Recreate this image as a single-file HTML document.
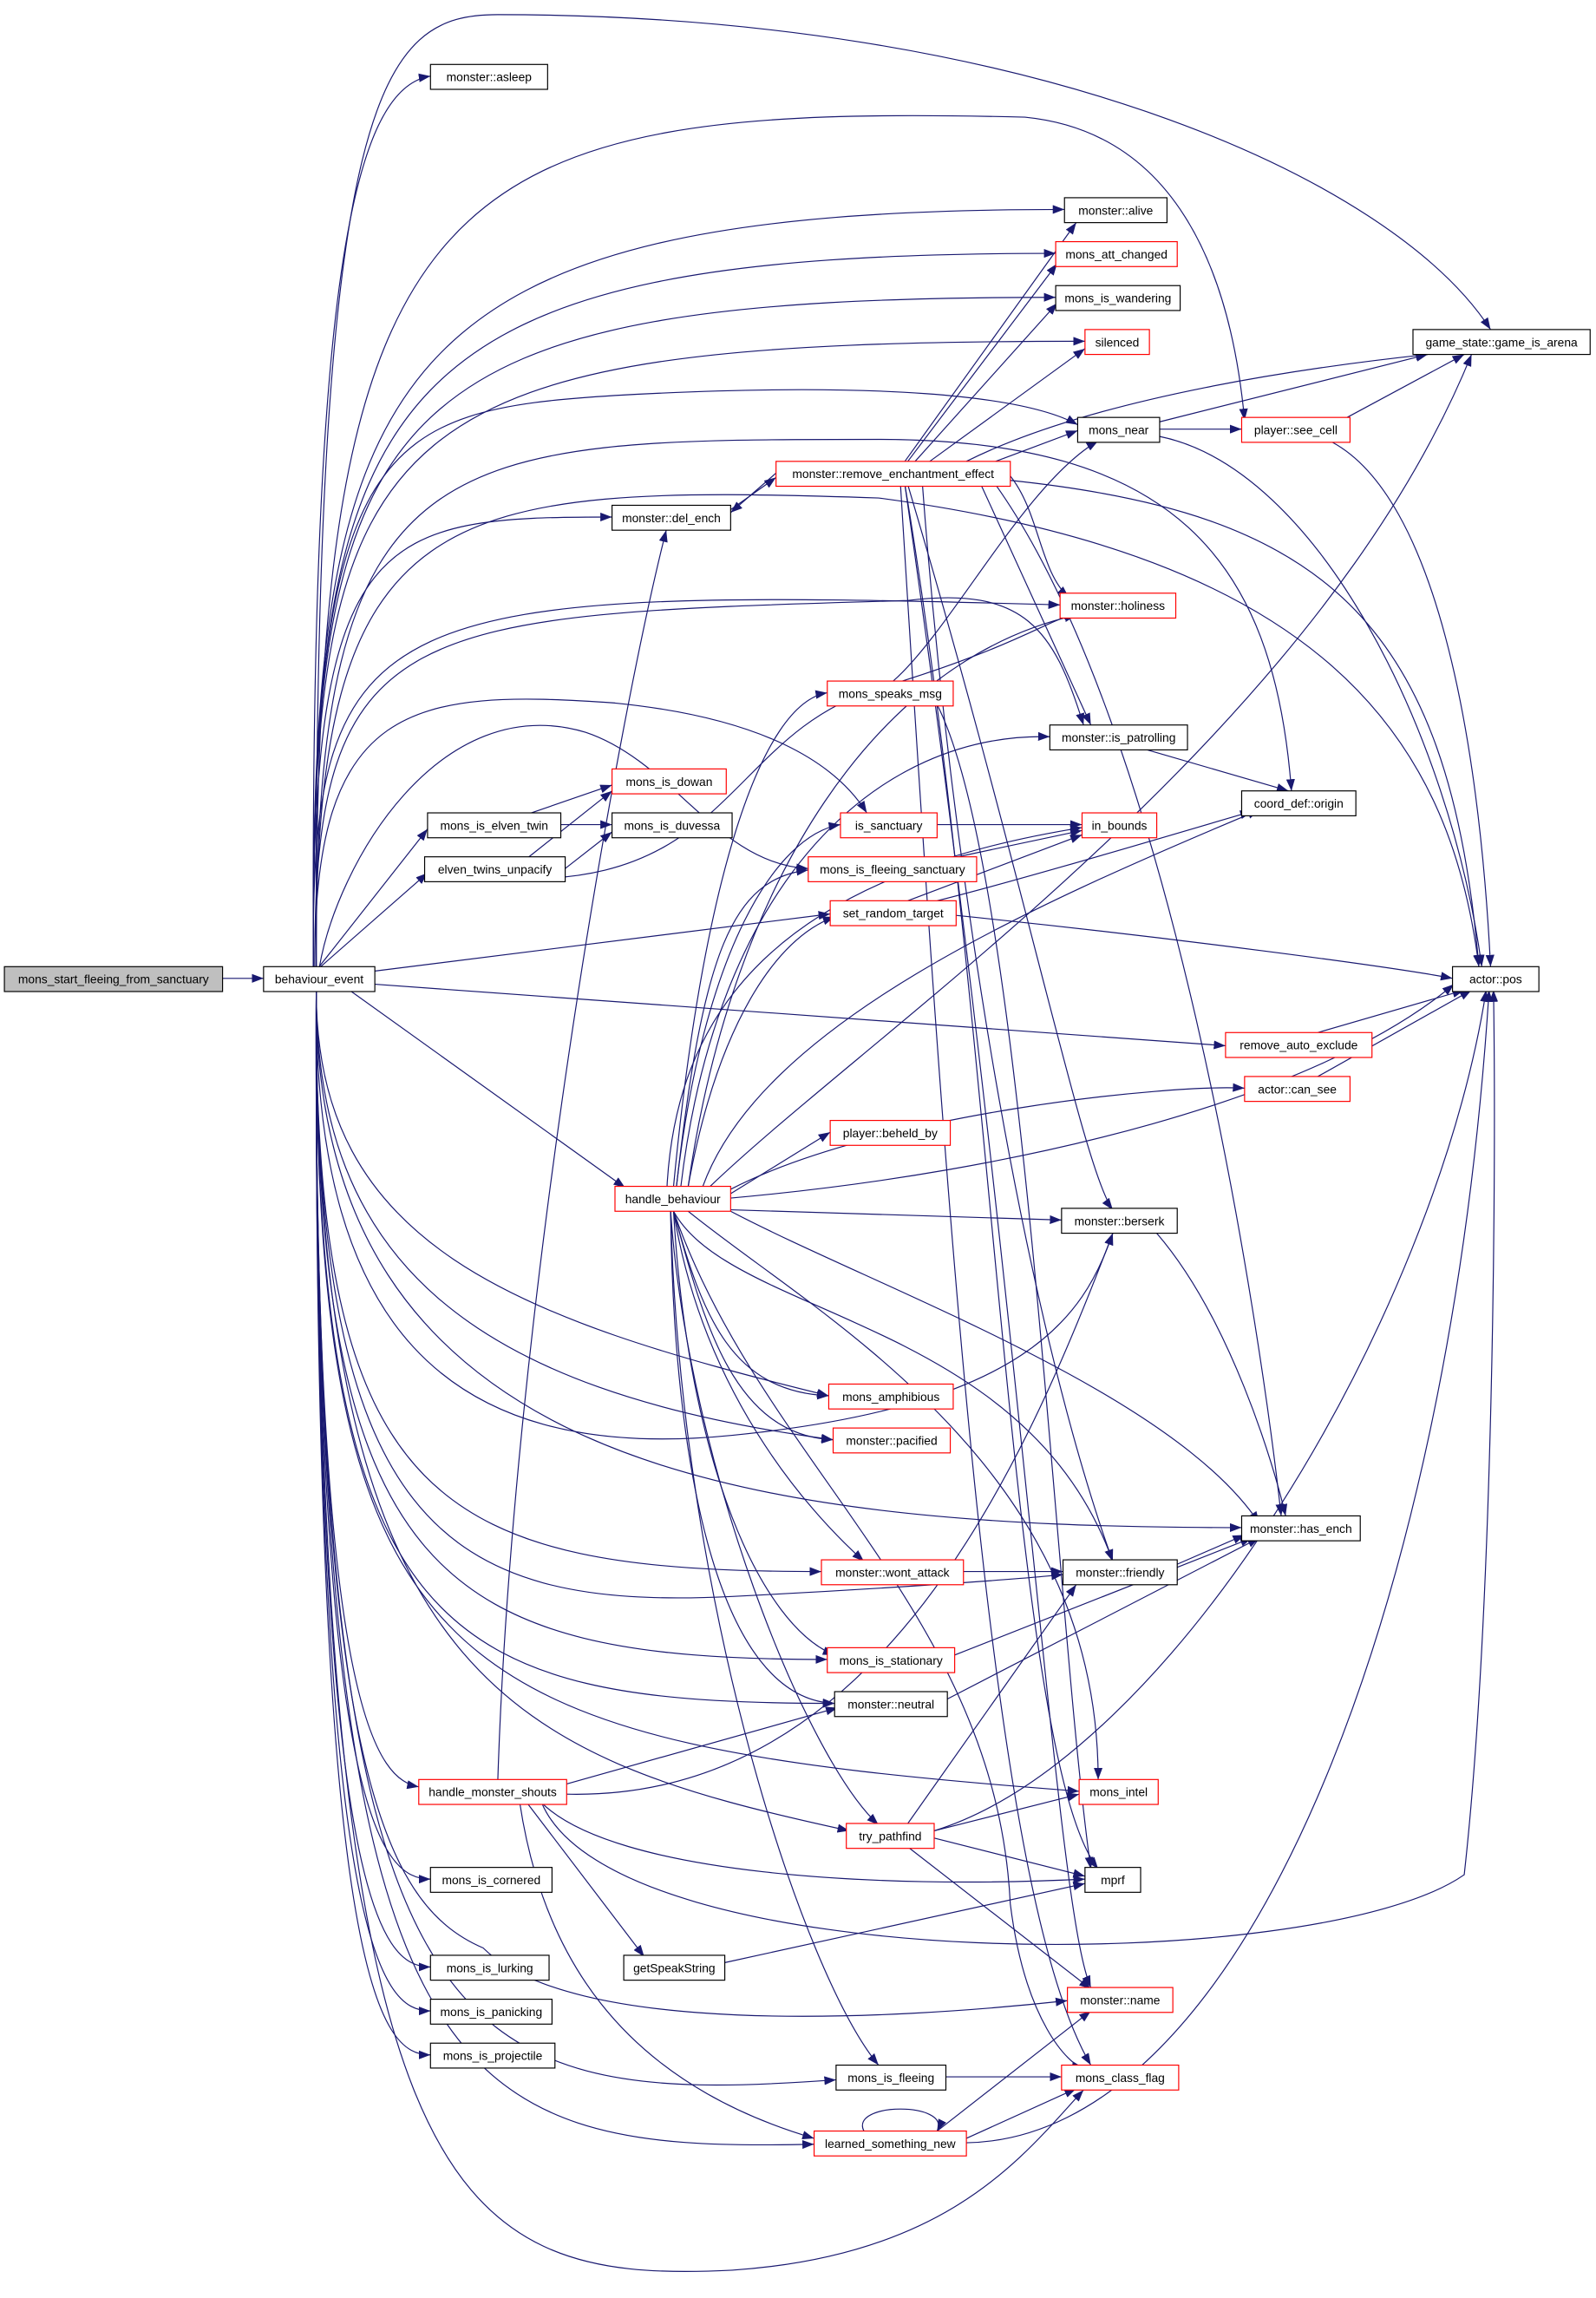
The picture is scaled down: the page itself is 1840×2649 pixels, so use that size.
<!DOCTYPE html>
<html><head><meta charset="utf-8"><style>
html,body{margin:0;padding:0;background:#fff}
svg{display:block}
text{font-family:"Liberation Sans",sans-serif;font-size:8.2px;fill:#000}
.e{fill:none;stroke:#191970;stroke-width:0.7}
.n{fill:#fff;stroke:#000;stroke-width:0.7}
.r{fill:#fff;stroke:#f00;stroke-width:0.7}
</style></head><body>
<svg width="1840" height="2649" viewBox="0 0 1090 1569" preserveAspectRatio="none" xmlns="http://www.w3.org/2000/svg">
<defs><marker id="a" markerWidth="8" markerHeight="6" refX="8" refY="3" orient="auto" markerUnits="userSpaceOnUse"><path d="M0,0 L8,3 L0,6 z" fill="#191970"/></marker></defs>
<g class="e" marker-end="url(#a)">
<path d="M152 668 L180 668"/>
<path d="M214 660 C212 200,240 60,294 52"/>
<path d="M216 660 C214 60,260 10,340 10 C700 10,950 120,1018 225"/>
<path d="M214 660 C212 250,260 143,727 143"/>
<path d="M214 660 C212 260,260 173,721 173"/>
<path d="M214 660 C212 270,260 203,721 203"/>
<path d="M214 660 C212 280,260 233,741 233"/>
<path d="M214 660 C212 300,260 280,420 270 C600 260,700 270,736 290"/>
<path d="M216 660 C214 120,300 70,700 80 C800 90,840 180,850 287"/>
<path d="M214 660 C212 360,260 353,418 353"/>
<path d="M214 660 C212 410,260 400,724 413"/>
<path d="M215 660 C214 420,280 420,620 410 C700 400,720 430,740 495"/>
<path d="M215 660 C214 480,280 470,420 480 C520 490,570 520,592 555"/>
<path d="M216 660 C214 300,300 300,600 300 C800 300,870 380,882 540"/>
<path d="M216 660 C214 340,300 330,600 340 C900 380,990 500,1010 660"/>
<path d="M218 660 L292 566"/>
<path d="M219 660 L292 596"/>
<path d="M218 661 C230 590,300 470,400 500 C460 520,490 590,552 593"/>
<path d="M256 663 L567 624"/>
<path d="M256 672 L837 714"/>
<path d="M240 677 L427 811"/>
<path d="M216 677 C214 900,300 1000,500 980 C700 960,740 900,760 842"/>
<path d="M216 677 C216 850,350 900,566 953"/>
<path d="M216 677 C216 860,320 950,569 983"/>
<path d="M216 677 C214 1000,500 1043,848 1043"/>
<path d="M216 677 C214 1030,300 1073,561 1073"/>
<path d="M216 677 C214 1040,300 1100,500 1090 C600 1085,700 1078,726 1075"/>
<path d="M216 677 C214 1080,300 1133,565 1133"/>
<path d="M216 677 C214 1120,300 1163,570 1163"/>
<path d="M216 677 C214 1180,260 1215,286 1220"/>
<path d="M216 677 C214 1150,300 1190,737 1223"/>
<path d="M216 677 C214 1150,350 1200,580 1250"/>
<path d="M216 677 C214 1240,260 1283,294 1283"/>
<path d="M216 677 C214 1300,260 1343,294 1343"/>
<path d="M216 677 C214 1330,260 1373,294 1373"/>
<path d="M216 677 C214 1360,260 1403,294 1403"/>
<path d="M216 677 C214 1200,260 1300,330 1330 C390 1390,600 1380,729 1366"/>
<path d="M216 677 C214 1400,300 1440,571 1420"/>
<path d="M216 677 C214 1430,300 1470,556 1464"/>
<path d="M216 677 C214 1500,300 1560,500 1550 C650 1540,700 1470,740 1427"/>
<path d="M618 315 L735 152"/>
<path d="M620 315 L722 180"/>
<path d="M625 315 L722 207"/>
<path d="M635 315 L741 238"/>
<path d="M660 315 C750 270,900 250,975 242"/>
<path d="M680 315 L736 294"/>
<path d="M530 323 L499 350"/>
<path d="M499 348 L530 326"/>
<path d="M690 325 C710 350,710 390,730 408"/>
<path d="M670 331 L745 495"/>
<path d="M690 328 C900 350,990 420,1010 660"/>
<path d="M680 331 C800 500,860 900,875 1035"/>
<path d="M630 331 C650 600,700 900,760 1066"/>
<path d="M620 331 C700 600,740 800,760 826"/>
<path d="M618 331 C680 700,690 1200,750 1276"/>
<path d="M618 331 C700 900,720 1300,745 1357"/>
<path d="M615 331 C650 900,680 1300,745 1410"/>
<path d="M792 288 L975 242"/>
<path d="M792 293 L848 293"/>
<path d="M920 285 L1000 242"/>
<path d="M792 298 C900 320,990 500,1012 660"/>
<path d="M910 302 C980 340,1010 500,1018 660"/>
<path d="M780 511 L880 540"/>
<path d="M360 556 L418 536"/>
<path d="M383 563 L418 563"/>
<path d="M360 586 L418 540"/>
<path d="M386 593 L418 568"/>
<path d="M360 600 C500 600,500 500,600 470 C700 440,720 420,735 420"/>
<path d="M640 563 L739 563"/>
<path d="M640 588 L739 567"/>
<path d="M620 615 L739 570"/>
<path d="M640 615 C700 600,800 570,855 554"/>
<path d="M653 625 C800 640,950 660,992 668"/>
<path d="M900 705 L1000 676"/>
<path d="M900 735 L1005 676"/>
<path d="M610 465 C650 430,700 330,750 301"/>
<path d="M640 481 C700 600,720 1100,745 1276"/>
<path d="M790 842 C840 900,870 1000,878 1035"/>
<path d="M658 1073 L726 1073"/>
<path d="M804 1068 L850 1048"/>
<path d="M652 1130 L855 1050"/>
<path d="M647 1160 L860 1050"/>
<path d="M460 810 C480 600,520 480,565 473"/>
<path d="M465 810 C490 600,600 500,717 503"/>
<path d="M470 810 C500 600,600 450,735 420"/>
<path d="M462 810 C480 650,530 570,574 563"/>
<path d="M462 810 C480 650,500 600,552 594"/>
<path d="M470 810 C490 700,530 640,570 626"/>
<path d="M480 810 C520 700,700 620,860 553"/>
<path d="M485 810 C600 700,900 500,1005 242"/>
<path d="M499 812 C600 760,800 740,850 743"/>
<path d="M499 815 L567 773"/>
<path d="M499 818 C700 800,900 750,993 672"/>
<path d="M499 826 L725 833"/>
<path d="M499 827 C600 880,800 950,860 1040"/>
<path d="M460 827 C500 900,700 900,760 1066"/>
<path d="M460 827 C480 900,500 950,566 953"/>
<path d="M460 827 C480 900,500 980,569 983"/>
<path d="M460 827 C480 950,550 1030,590 1066"/>
<path d="M460 827 C470 1000,520 1110,570 1130"/>
<path d="M458 827 C460 1000,490 1160,570 1163"/>
<path d="M458 827 C470 1000,550 1200,600 1246"/>
<path d="M470 827 C560 900,750 1000,750 1215"/>
<path d="M458 827 C465 1100,550 1350,600 1410"/>
<path d="M460 827 C520 1000,680 1100,690 1300 C700 1380,730 1410,740 1412"/>
<path d="M455 827 C456 700,520 600,739 565"/>
<path d="M340 1215 C350 900,420 500,455 362"/>
<path d="M387 1218 L572 1166"/>
<path d="M387 1225 C600 1230,700 1000,760 842"/>
<path d="M370 1231 C420 1280,600 1290,741 1283"/>
<path d="M360 1231 L440 1336"/>
<path d="M370 1231 C420 1350,900 1350,1000 1280 C1020 1100,1022 800,1020 676"/>
<path d="M355 1231 C370 1330,420 1420,556 1460"/>
<path d="M620 1245 L735 1082"/>
<path d="M638 1250 L737 1225"/>
<path d="M638 1255 L741 1281"/>
<path d="M638 1250 C800 1200,980 900,1015 676"/>
<path d="M620 1261 L745 1358"/>
<path d="M495 1340 L741 1286"/>
<path d="M646 1418 L725 1418"/>
<path d="M590 1455 C580 1435,650 1435,640 1455"/>
<path d="M640 1455 L745 1373"/>
<path d="M660 1460 L735 1426"/>
<path d="M660 1463 C850 1460,990 1100,1017 676"/>
</g>
<g>
<rect x="3" y="660" width="149" height="17" fill="#bfbfbf" stroke="#000" stroke-width="0.7"/><text x="77.5" y="671.5" text-anchor="middle">mons_start_fleeing_from_sanctuary</text>
</g>
<g text-anchor="middle">
<rect class="n" x="180" y="660" width="76" height="17"/><text x="218" y="671.5">behaviour_event</text>
<rect class="n" x="294" y="44" width="80" height="17"/><text x="334" y="55.5">monster::asleep</text>
<rect class="n" x="727" y="135" width="70" height="17"/><text x="762" y="146.5">monster::alive</text>
<rect class="r" x="721" y="165" width="83" height="17"/><text x="762.5" y="176.5">mons_att_changed</text>
<rect class="n" x="721" y="195" width="85" height="17"/><text x="763.5" y="206.5">mons_is_wandering</text>
<rect class="r" x="741" y="225" width="44" height="17"/><text x="763" y="236.5">silenced</text>
<rect class="n" x="965" y="225" width="121" height="17"/><text x="1025.5" y="236.5">game_state::game_is_arena</text>
<rect class="n" x="736" y="285" width="56" height="17"/><text x="764" y="296.5">mons_near</text>
<rect class="r" x="848" y="285" width="74" height="17"/><text x="885" y="296.5">player::see_cell</text>
<rect class="r" x="530" y="315" width="160" height="17"/><text x="610" y="326.5">monster::remove_enchantment_effect</text>
<rect class="n" x="418" y="345" width="81" height="17"/><text x="458.5" y="356.5">monster::del_ench</text>
<rect class="r" x="724" y="405" width="79" height="17"/><text x="763.5" y="416.5">monster::holiness</text>
<rect class="r" x="565" y="465" width="86" height="17"/><text x="608" y="476.5">mons_speaks_msg</text>
<rect class="n" x="717" y="495" width="94" height="17"/><text x="764" y="506.5">monster::is_patrolling</text>
<rect class="r" x="418" y="525" width="78" height="17"/><text x="457" y="536.5">mons_is_dowan</text>
<rect class="n" x="848" y="540" width="78" height="17"/><text x="887" y="551.5">coord_def::origin</text>
<rect class="n" x="292" y="555" width="91" height="17"/><text x="337.5" y="566.5">mons_is_elven_twin</text>
<rect class="n" x="418" y="555" width="82" height="17"/><text x="459" y="566.5">mons_is_duvessa</text>
<rect class="r" x="574" y="555" width="66" height="17"/><text x="607" y="566.5">is_sanctuary</text>
<rect class="r" x="739" y="555" width="51" height="17"/><text x="764.5" y="566.5">in_bounds</text>
<rect class="n" x="290" y="585" width="96" height="17"/><text x="338" y="596.5">elven_twins_unpacify</text>
<rect class="r" x="552" y="585" width="115" height="17"/><text x="609.5" y="596.5">mons_is_fleeing_sanctuary</text>
<rect class="r" x="567" y="615" width="86" height="17"/><text x="610" y="626.5">set_random_target</text>
<rect class="n" x="992" y="660" width="59" height="17"/><text x="1021.5" y="671.5">actor::pos</text>
<rect class="r" x="837" y="705" width="100" height="17"/><text x="887" y="716.5">remove_auto_exclude</text>
<rect class="r" x="850" y="735" width="72" height="17"/><text x="886" y="746.5">actor::can_see</text>
<rect class="r" x="567" y="765" width="82" height="17"/><text x="608" y="776.5">player::beheld_by</text>
<rect class="r" x="420" y="810" width="79" height="17"/><text x="459.5" y="821.5">handle_behaviour</text>
<rect class="n" x="725" y="825" width="79" height="17"/><text x="764.5" y="836.5">monster::berserk</text>
<rect class="r" x="566" y="945" width="85" height="17"/><text x="608.5" y="956.5">mons_amphibious</text>
<rect class="r" x="569" y="975" width="80" height="17"/><text x="609" y="986.5">monster::pacified</text>
<rect class="n" x="848" y="1035" width="81" height="17"/><text x="888.5" y="1046.5">monster::has_ench</text>
<rect class="r" x="561" y="1065" width="97" height="17"/><text x="609.5" y="1076.5">monster::wont_attack</text>
<rect class="n" x="726" y="1065" width="78" height="17"/><text x="765" y="1076.5">monster::friendly</text>
<rect class="r" x="565" y="1125" width="87" height="17"/><text x="608.5" y="1136.5">mons_is_stationary</text>
<rect class="n" x="570" y="1155" width="77" height="17"/><text x="608.5" y="1166.5">monster::neutral</text>
<rect class="r" x="286" y="1215" width="101" height="17"/><text x="336.5" y="1226.5">handle_monster_shouts</text>
<rect class="r" x="737" y="1215" width="54" height="17"/><text x="764" y="1226.5">mons_intel</text>
<rect class="r" x="578" y="1245" width="60" height="17"/><text x="608" y="1256.5">try_pathfind</text>
<rect class="n" x="294" y="1275" width="83" height="17"/><text x="335.5" y="1286.5">mons_is_cornered</text>
<rect class="n" x="741" y="1275" width="38" height="17"/><text x="760" y="1286.5">mprf</text>
<rect class="n" x="426" y="1335" width="69" height="17"/><text x="460.5" y="1346.5">getSpeakString</text>
<rect class="n" x="294" y="1335" width="81" height="17"/><text x="334.5" y="1346.5">mons_is_lurking</text>
<rect class="r" x="729" y="1357" width="72" height="17"/><text x="765" y="1368.5">monster::name</text>
<rect class="n" x="294" y="1365" width="83" height="17"/><text x="335.5" y="1376.5">mons_is_panicking</text>
<rect class="n" x="294" y="1395" width="85" height="17"/><text x="336.5" y="1406.5">mons_is_projectile</text>
<rect class="n" x="571" y="1410" width="75" height="17"/><text x="608.5" y="1421.5">mons_is_fleeing</text>
<rect class="r" x="725" y="1410" width="80" height="17"/><text x="765" y="1421.5">mons_class_flag</text>
<rect class="r" x="556" y="1455" width="104" height="17"/><text x="608" y="1466.5">learned_something_new</text>
</g>
</svg>
</body></html>
